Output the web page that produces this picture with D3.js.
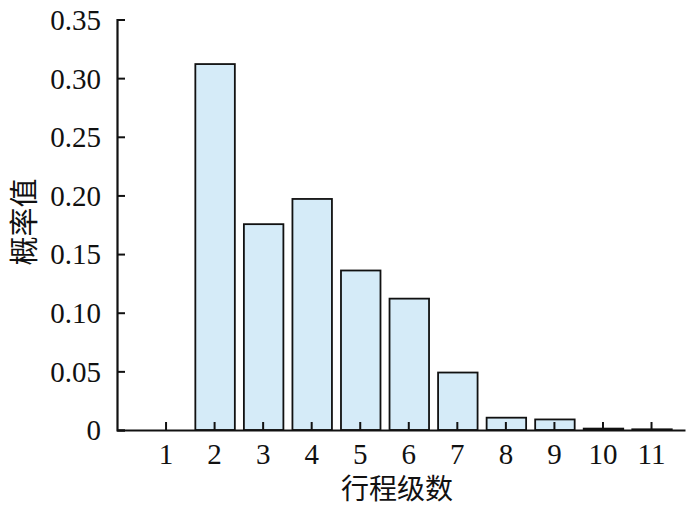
<!DOCTYPE html>
<html><head><meta charset="utf-8">
<script src="https://cdn.jsdelivr.net/npm/d3@7"></script>
<style>body{margin:0;background:#fff}</style>
</head><body>
<svg id="c" width="700" height="506"></svg>
<script>
const categories = [1,2,3,4,5,6,7,8,9,10,11];
const values = [0, 0.312, 0.1755, 0.197, 0.136, 0.112, 0.049, 0.0105, 0.009, 0.0012, 0.0006];
const yTicks = [0,0.05,0.10,0.15,0.20,0.25,0.30,0.35];
const yTickLabels = ["0","0.05","0.10","0.15","0.20","0.25","0.30","0.35"];
const xLabel = "行程级数";
const yLabel = "概率值";

const svg = d3.select("#c");
const m = {l:117, r:685, t:19.5, b:430};
const x = d3.scaleLinear().domain([0, 11.7]).range([m.l, m.r]);
const y = d3.scaleLinear().domain([0, 0.35]).range([m.b, m.t]);
const bw = 39.5;

svg.append("g").selectAll("rect").data(categories).join("rect")
  .attr("x", (d)=> x(d)-bw/2+1)
  .attr("y", (d,i)=> y(values[i]))
  .attr("width", bw)
  .attr("height", (d,i)=> y(0)-y(values[i]))
  .attr("fill", "#d5ebf8")
  .attr("stroke", "#111")
  .attr("stroke-width", 1.8);

const yAxis = d3.axisLeft(y).tickValues(yTicks).tickFormat((d,i)=>yTickLabels[i]).tickSizeInner(-8).tickSizeOuter(-8).tickPadding(16);
const gy = svg.append("g").attr("transform", `translate(${m.l},0)`).call(yAxis);
const xAxis = d3.axisBottom(x).tickValues(categories).tickFormat(d=>d).tickSizeInner(-8).tickSizeOuter(0).tickPadding(13);
const gx = svg.append("g").attr("transform", `translate(0,${m.b})`).call(xAxis);
[gy,gx].forEach(g=>{
  g.selectAll("path.domain").attr("stroke","#111").attr("stroke-width",2.2);
  g.selectAll(".tick line").attr("stroke","#111").attr("stroke-width",2);
  g.selectAll("text").attr("font-family","'Liberation Serif', serif").attr("font-size",29).attr("fill","#111");
});
gx.selectAll("text").attr("dy","0.71em");
gy.selectAll("text").attr("dy","0.34em");

svg.append("text").attr("x", (m.l+m.r)/2-4).attr("y", 499)
  .attr("text-anchor","middle").attr("font-family","'Noto Sans CJK SC', sans-serif")
  .attr("font-size",28).attr("fill","#111").text(xLabel);
svg.append("text").attr("transform","translate(35,222) rotate(-90)")
  .attr("text-anchor","middle").attr("font-family","'Noto Sans CJK SC', sans-serif")
  .attr("font-size",29).attr("fill","#111").text(yLabel);
</script>
</body></html>
